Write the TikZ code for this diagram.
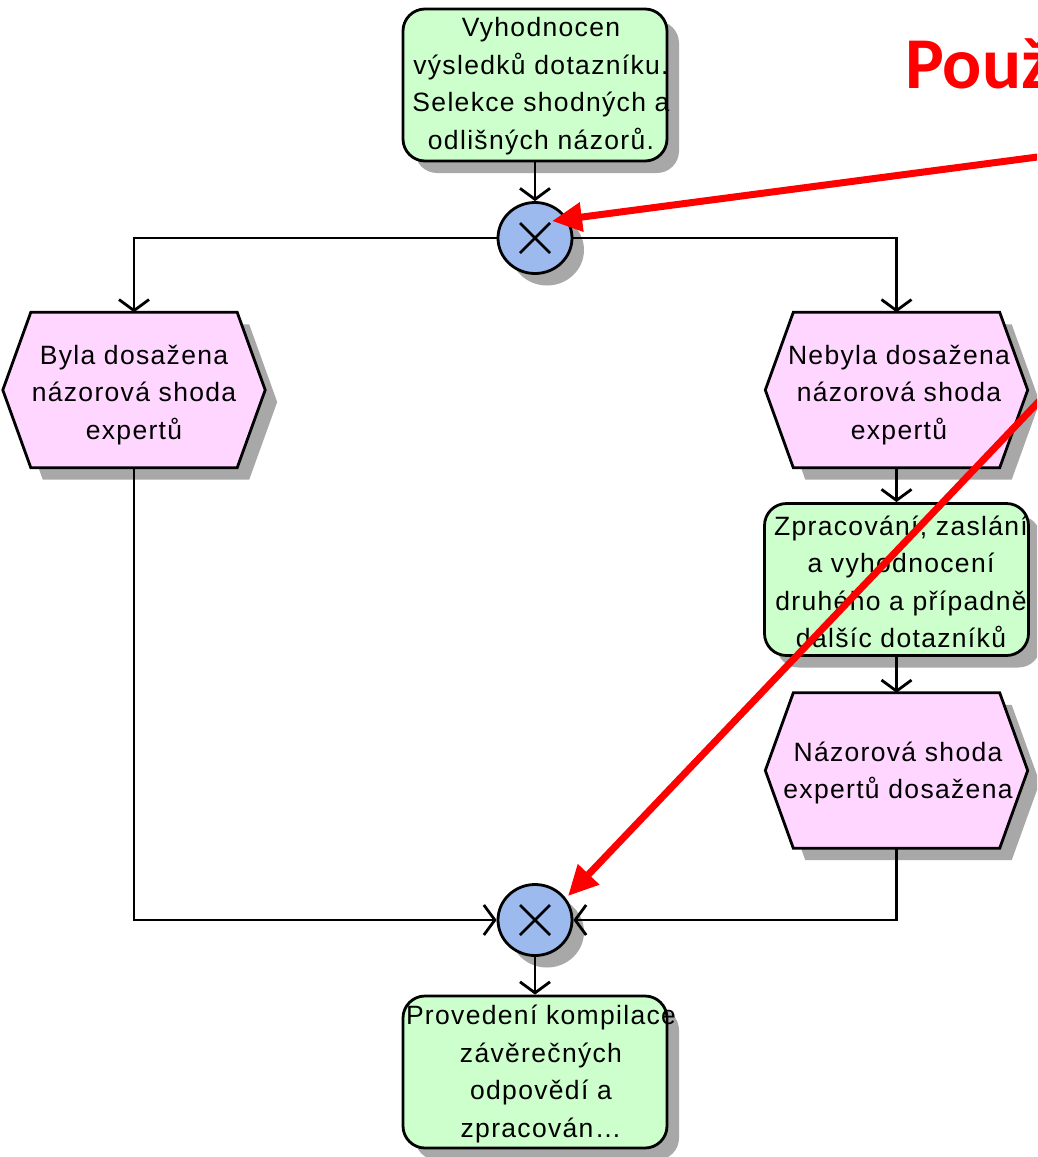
\documentclass[tikz,border=0pt]{standalone}
\usepackage{fontspec}
\setmainfont{Liberation Sans}
\newfontfamily\diafont[LetterSpace=5]{Liberation Sans}
\newfontfamily\titlefont{Carlito}
\usetikzlibrary{arrows.meta,shadows,shapes.geometric}
\definecolor{gfill}{RGB}{204,255,204}
\definecolor{pfill}{RGB}{255,214,255}
\definecolor{bfill}{RGB}{157,186,238}
\definecolor{shad}{RGB}{168,168,168}
\newcommand\hexa[1]{\draw[hexstyle] (#1.west) -- ([xshift=28pt]#1.north west) -- ([xshift=-28pt]#1.north east) -- (#1.east) -- ([xshift=-28pt]#1.south east) -- ([xshift=28pt]#1.south west) -- cycle;}
\newcommand\xmark[1]{\draw[line width=2.8pt] ([shift={(-15,-15)}]#1.center) -- ([shift={(15,15)}]#1.center) ([shift={(-15,15)}]#1.center) -- ([shift={(15,-15)}]#1.center);}
\begin{document}
\begin{tikzpicture}[x=1pt,y=-1pt,
  shd/.style={drop shadow={shadow xshift=12pt,shadow yshift=-12pt,fill=shad,opacity=1}},
  gbox/.style={shd,draw=black,line width=2.8pt,fill=gfill,rounded corners=22pt,minimum width=264pt,minimum height=152pt,inner sep=0pt},
  hexbox/.style={draw=none,minimum width=262pt,minimum height=155pt,inner sep=0pt},
  hexstyle/.style={shd,draw=black,line width=2.8pt,fill=pfill,line join=miter},
  xor/.style={shd,draw=black,line width=2.8pt,fill=bfill,ellipse,minimum width=74pt,minimum height=71pt,inner sep=0pt},
  conn/.style={draw=black,line width=2.8pt,-{Straight Barb[length=11pt,width=30pt]}},
  txt/.style={font=\diafont\fontsize{26.5}{37.5}\selectfont,align=center,inner sep=0pt},
  redarrow/.style={draw=red,line width=7pt,-{Triangle[length=30pt,width=28pt]}}
]
\useasboundingbox (0,0) rectangle (1037,1157);
\clip (0,0) rectangle (1037,1157);

% shapes
\node[gbox] (b1) at (535,85) {};
\node[xor] (c1) at (535,238) {};
\node[hexbox] (h1) at (134,390) {};
\hexa{h1}
\node[hexbox] (h2) at (896.5,390) {};
\hexa{h2}
\node[gbox] (g2) at (896.5,579.5) {};
\node[hexbox] (h3) at (896.5,770.5) {};
\hexa{h3}
\node[xor] (c2) at (535,920) {};
\node[gbox] (b3) at (535,1072) {};
\xmark{c1}
\xmark{c2}

% connectors
\draw[conn] (b1.south) -- (c1.north);
\draw[conn] (c1.west) -| (h1.north);
\draw[conn] (c1.east) -| (h2.north);
\draw[conn] (h2.south) -- (g2.north);
\draw[conn] (g2.south) -- (h3.north);
\draw[conn] (h1.south) |- (c2.west);
\draw[conn] (h3.south) |- (c2.east);
\draw[conn] (c2.south) -- (b3.north);

% texts
\node[txt] (t1) at (541,86) {Vyhodnocen\\výsledků dotazníku.\\Selekce shodných a\\odlišných názorů.};
\node[txt] (t2) at (134,395) {Byla dosažena\\názorová shoda\\expertů};
\node[txt] (t3) at (899,395) {Nebyla dosažena\\názorová shoda\\expertů};
\node[txt] (t4) at (901,582) {Zpracování, zaslání\\a vyhodnocení\\druhého a případně\\dalšíc dotazníků};
\node[txt] (t5) at (898,773) {Názorová shoda\\expertů dosažena};
\node[txt] (t6) at (541,1074) {Provedení kompilace\\závěrečných\\odpovědí a\\zpracován…};

% red annotation
\node[font=\titlefont\bfseries\fontsize{73}{78}\selectfont,text=red,anchor=base west,inner sep=0pt] (title) at (905,88) {Použ};
\coordinate (r1s) at (1045,156);
\coordinate (r1e) at (552,221);
\coordinate (r2s) at (1045,395);
\coordinate (r2e) at (568,896);
\draw[redarrow] (r1s) -- (r1e);
\draw[redarrow] (r2s) -- (r2e);
\end{tikzpicture}
\end{document}
